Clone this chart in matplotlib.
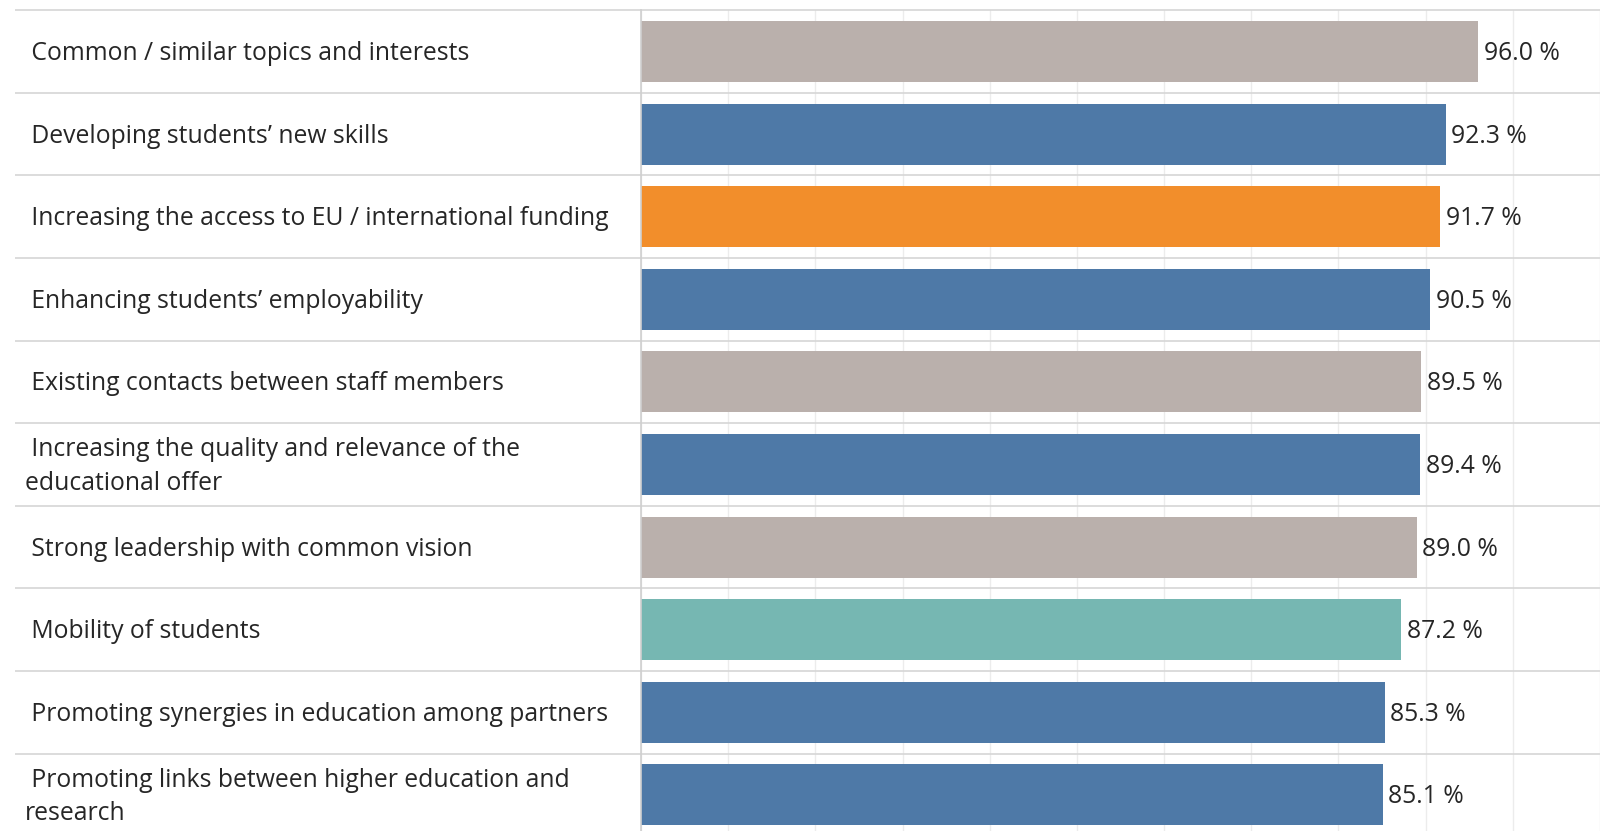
import matplotlib.pyplot as plt

# survey factors, top to bottom
labels = [
    "Common / similar topics and interests",
    "Developing students\u2019 new skills",
    "Increasing the access to EU / international funding",
    "Enhancing students\u2019 employability",
    "Existing contacts between staff members",
    "Increasing the quality and relevance of the\neducational offer",
    "Strong leadership with common vision",
    "Mobility of students",
    "Promoting synergies in education among partners",
    "Promoting links between higher education and\nresearch",
]
values = [96.0, 92.3, 91.7, 90.5, 89.5, 89.4, 89.0, 87.2, 85.3, 85.1]
groups = ["gray", "blue", "orange", "blue", "gray", "blue", "gray", "teal", "blue", "blue"]

palette = {"gray": "#bab0ac", "blue": "#4e79a7", "orange": "#f28e2b", "teal": "#76b7b2"}
text_color = "#262626"
font = "Open Sans"

W, H = 1600, 831
fig = plt.figure(figsize=(W / 100, H / 100), dpi=100)
fig.patch.set_facecolor("white")

left_px, top_px, row_px = 641, 10.2, 82.6
n = len(values)
bottom_px = top_px + n * row_px
ax = fig.add_axes([left_px / W, 1 - bottom_px / H, 1 - left_px / W, n * row_px / H])

ypos = list(range(n))
ax.barh(ypos, values, height=0.74, color=[palette[g] for g in groups], zorder=3)
ax.set_xlim(0, 110)
ax.set_ylim(n - 0.5, -0.5)

ax.set_xticks(range(0, 111, 10))
ax.set_yticks([])
ax.tick_params(axis="x", length=0, labelbottom=False)
ax.grid(axis="x", color="#ececec", linewidth=1, zorder=0)
for side in ["top", "right", "bottom"]:
    ax.spines[side].set_visible(False)
ax.spines["left"].set_color("#cfcfcf")
ax.spines["left"].set_linewidth(1.2)
ax.spines["left"].set_zorder(4)

# row separators running under the labels and across the bars
sep_x0 = (15 - left_px) / (W - left_px)
trans = ax.get_yaxis_transform()
for k in range(n):
    ax.hlines(k - 0.5, sep_x0, 1, transform=trans, color="#d6d6d6",
              linewidth=1.2, clip_on=False, zorder=2)

label_x = (25 - left_px) / (W - left_px)
for y, lab in zip(ypos, labels):
    lines = lab.split("\n")
    txt = "\n".join([" " + lines[0]] + lines[1:])
    ax.annotate(txt, (label_x, y), xycoords=trans, xytext=(0, -1.5),
                textcoords="offset points", ha="left", va="center",
                fontsize=17.8, family=font, color=text_color, linespacing=1.45,
                annotation_clip=False)

for y, v in zip(ypos, values):
    ax.annotate(f"{v:.1f} %", (v, y), xytext=(4, -1.5), textcoords="offset points",
                ha="left", va="center", fontsize=17.8, family=font,
                color=text_color, zorder=5)

fig.savefig("out.png", dpi=100, facecolor="white")
